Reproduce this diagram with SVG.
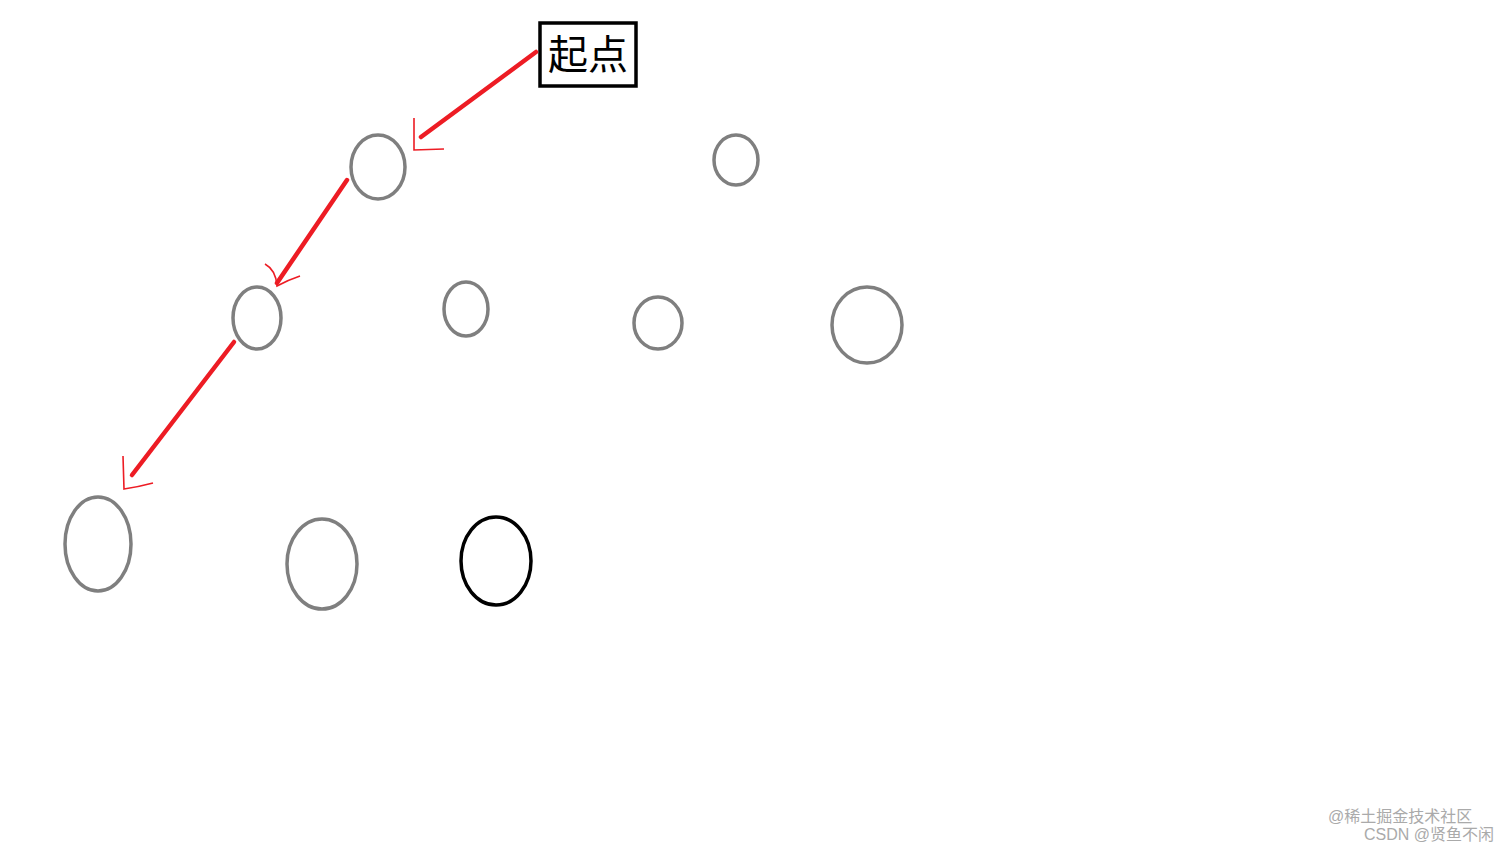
<svg xmlns="http://www.w3.org/2000/svg" width="1512" height="851" viewBox="0 0 1512 851">
<style>
.n{fill:none;stroke:#7f7f7f;stroke-width:3.5}
.k{fill:none;stroke:#000;stroke-width:3.5}
.e{stroke:#ed1c24;stroke-width:4.5;stroke-linecap:round;fill:none}
.h{stroke:#ed1c24;stroke-width:1.6;fill:none}
.w{font-family:"Liberation Sans","Noto Sans CJK SC",sans-serif;font-size:16px;fill:#aaa}
</style>
<rect width="1512" height="851" fill="#fff"/>
<g id="start">
<rect x="540" y="23" width="96" height="63" fill="#fff" stroke="#000" stroke-width="3.5"/>
<text x="588" y="69" text-anchor="middle" font-family="Noto Sans CJK SC,sans-serif" font-size="40" fill="#000">起点</text>
</g>
<g id="n1"><ellipse class="n" cx="378" cy="167" rx="27" ry="32"/></g>
<g id="n2"><ellipse class="n" cx="736" cy="160" rx="22" ry="25"/></g>
<g id="n3"><ellipse class="n" cx="257" cy="318" rx="24" ry="31"/></g>
<g id="n4"><ellipse class="n" cx="466" cy="309" rx="22" ry="27"/></g>
<g id="n5"><ellipse class="n" cx="658" cy="323" rx="24" ry="26"/></g>
<g id="n6"><ellipse class="n" cx="867" cy="325" rx="35" ry="38"/></g>
<g id="n7"><ellipse class="n" cx="98" cy="544" rx="33" ry="47"/></g>
<g id="n8"><ellipse class="n" cx="322" cy="564" rx="35" ry="45"/></g>
<g id="n9"><ellipse class="k" cx="496" cy="561" rx="35" ry="44"/></g>
<g id="connectors">
<line class="e" x1="536" y1="52" x2="421" y2="137"/>
<path class="h" d="M414,118 L414,150 L444,149"/>
<line class="e" x1="347" y1="180" x2="277" y2="283"/>
<path class="h" d="M265,264 Q276,270 277,286 Q288,280 300,276"/>
<line class="e" x1="234" y1="342" x2="132" y2="475"/>
<path class="h" d="M123,456 L124,489 Q138,487 153,483"/>
</g>
<text class="w" x="1328" y="822">@稀土掘金技术社区</text>
<text class="w" x="1364" y="840">CSDN @贤鱼不闲</text>
</svg>
